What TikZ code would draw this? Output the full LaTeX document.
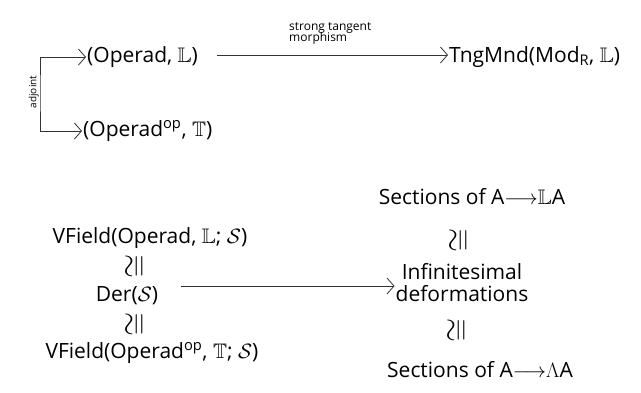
\documentclass[tikz,border=0pt]{standalone}
\usepackage{amssymb}
\usepackage{fontspec}
\setmainfont{Open Sans}
\usetikzlibrary{arrows.meta}
\newcommand{\isosym}{\scalebox{1.5}{$\cong$}}
\begin{document}
\begin{tikzpicture}[x=1pt,y=-1pt,
  every node/.style={inner sep=1pt},
  big/.style={font=\fontsize{21}{24}\selectfont},
  small/.style={font=\fontsize{10}{10}\selectfont, align=left},
  barb/.tip={Straight Barb[length=7pt,width=16pt,line width=0.8pt]},
  link/.style={draw=black!80, line width=0.8pt, -barb},
  iso/.style={font=\fontsize{21}{24}\selectfont, rotate=90}]
\useasboundingbox (0,0) rectangle (641,392);
% top row
\node[big, anchor=west] (opL) at (86,57) {(Operad, $\mathbb{L}$)};
\node[big, anchor=west] (opT) at (82,131) {(Operad$^{\mathrm{op}}$, $\mathbb{T}$)};
\node[big, anchor=west] (tng) at (448,57) {TngMnd(Mod$_{\mathrm{R}}$, $\mathbb{L}$)};
\coordinate (bend) at (40,92);
\draw[link, barb-barb] (opL.west) -| (bend) |- (opT.west);
\node[small, rotate=90, anchor=south] at (bend) {adjoint};
\draw[link] (opL.east) ++(18,-2) coordinate (tstart) -- (tng.west |- tstart);
\node[small, font=\fontsize{12}{12}\selectfont, anchor=south west] at (288,46) {strong tangent\\[-1pt]morphism};
% bottom left column
\node[big] (vf1) at (150,238) {VField(Operad, $\mathbb{L}$; $\mathcal{S}$)};
\node[iso] (i1) at (136,266) {\isosym};
\node[big] (der) at (127,296) {Der($\mathcal{S}$)};
\node[iso] (i2) at (136,324) {\isosym};
\node[big] (vf2) at (152,353) {VField(Operad$^{\mathrm{op}}$, $\mathbb{T}$; $\mathcal{S}$)};
% bottom right column
\node[big] (secL) at (472,197) {Sections of A$\longrightarrow$$\mathbb{L}$A};
\node[iso] (i3) at (460,240) {\isosym};
\node[big, align=center] (inf) at (462,283) {Infinitesimal\\[-2pt]deformations};
\node[iso] (i4) at (458,330) {\isosym};
\node[big] (secA) at (480,370) {Sections of A$\longrightarrow$$\Lambda$A};
\draw[link] (der.east) ++(22,-10) coordinate (dstart) -- (inf.west |- dstart);
\end{tikzpicture}
\end{document}
